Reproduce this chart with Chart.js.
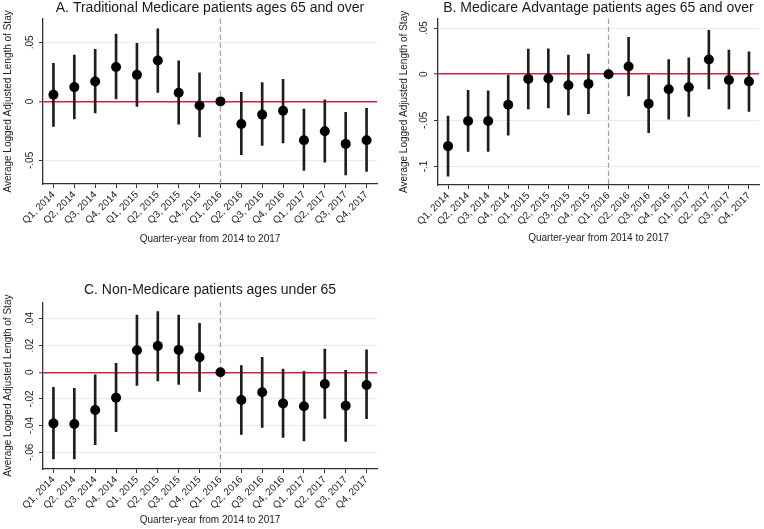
<!DOCTYPE html>
<html>
<head>
<meta charset="utf-8">
<script src="https://cdn.jsdelivr.net/npm/chart.js@4/dist/chart.umd.min.js"></script>
<style>
  html, body { margin: 0; padding: 0; background: #ffffff; }
  body { width: 764px; height: 529px; position: relative; overflow: hidden; }
  canvas { position: absolute; }
</style>
</head>
<body>
<canvas id="cA" width="382" height="270" style="left:0;top:0"></canvas>
<canvas id="cB" width="382" height="270" style="left:382px;top:0"></canvas>
<canvas id="cC" width="382" height="259" style="left:0;top:270px"></canvas>
<script>
// ---- Data ----
const quarters = ["Q1, 2014","Q2, 2014","Q3, 2014","Q4, 2014","Q1, 2015","Q2, 2015","Q3, 2015","Q4, 2015",
                  "Q1, 2016","Q2, 2016","Q3, 2016","Q4, 2016","Q1, 2017","Q2, 2017","Q3, 2017","Q4, 2017"];
const referenceQuarter = "Q1, 2016";

const titleA = "A. Traditional Medicare patients ages 65 and over";
const estA = [0.0056, 0.0121, 0.0169, 0.0292, 0.0225, 0.0346, 0.0073, -0.0034, 0, -0.0191, -0.0112, -0.0079, -0.0329, -0.0253, -0.0360, -0.0329];
const loA  = [-0.0211, -0.0149, -0.0098, 0.0020, -0.0042, 0.0076, -0.0194, -0.0300, 0, -0.0452, -0.0374, -0.0351, -0.0584, -0.0514, -0.0624, -0.0593];
const hiA  = [0.0323, 0.0393, 0.0441, 0.0570, 0.0492, 0.0615, 0.0343, 0.0242, 0, 0.0076, 0.0160, 0.0188, -0.0065, 0.0014, -0.0093, -0.0059];
const yTicksA = [-0.05, 0, 0.05];
const yTickLabelsA = ["-.05", "0", ".05"];
const yRangeA = [-0.07, 0.07];

const titleB = "B. Medicare Advantage patients ages 65 and over";
const estB = [-0.0779, -0.0507, -0.0507, -0.0330, -0.0051, -0.0047, -0.0120, -0.0105, 0, 0.0083, -0.0319, -0.0163, -0.0141, 0.0159, -0.0062, -0.0080];
const loB  = [-0.1105, -0.0837, -0.0837, -0.0660, -0.0377, -0.0366, -0.0442, -0.0428, 0, -0.0236, -0.0634, -0.0486, -0.0457, -0.0159, -0.0377, -0.0402];
const hiB  = [-0.0453, -0.0174, -0.0181, 0.0000, 0.0272, 0.0275, 0.0207, 0.0217, 0, 0.0399, 0.0000, 0.0159, 0.0178, 0.0475, 0.0261, 0.0243];
const yTicksB = [-0.1, -0.05, 0, 0.05];
const yTickLabelsB = ["-.1", "-.05", "0", ".05"];
const yRangeB = [-0.12, 0.06];

const titleC = "C. Non-Medicare patients ages under 65";
const estC = [-0.0383, -0.0388, -0.0283, -0.0190, 0.0165, 0.0198, 0.0168, 0.0113, 0, -0.0208, -0.0150, -0.0233, -0.0255, -0.0088, -0.0250, -0.0095];
const loC  = [-0.0650, -0.0650, -0.0543, -0.0445, -0.0098, -0.0065, -0.0090, -0.0143, 0, -0.0465, -0.0413, -0.0488, -0.0515, -0.0345, -0.0518, -0.0348];
const hiC  = [-0.0113, -0.0120, -0.0018, 0.0068, 0.0430, 0.0455, 0.0430, 0.0368, 0, 0.0050, 0.0113, 0.0025, 0.0008, 0.0175, 0.0015, 0.0168];
const yTicksC = [-0.06, -0.04, -0.02, 0, 0.02, 0.04];
const yTickLabelsC = ["-.06", "-.04", "-.02", "0", ".02", ".04"];
const yRangeC = [-0.0725, 0.0525];

const yAxisTitle = "Average Logged Adjusted Length of Stay";
const xAxisTitle = "Quarter-year from 2014 to 2017";

// ---- Styling ----
const FONT = "'Liberation Sans', Arial, sans-serif";
const RED = "#d81e3c";
const GRID = "#e2edf1";
const AXIS = "#333333";

const refLinesPlugin = {
  id: 'refLines',
  beforeDatasetsDraw(chart) {
    const {ctx, chartArea, scales} = chart;
    const x = scales.x.getPixelForValue(quarters.indexOf(referenceQuarter));
    ctx.save();
    ctx.strokeStyle = "#a0a0a0";
    ctx.lineWidth = 1.3;
    ctx.setLineDash([5, 3]);
    ctx.beginPath();
    ctx.moveTo(x, chartArea.top);
    ctx.lineTo(x, chartArea.bottom);
    ctx.stroke();
    ctx.restore();
  }
};

function makePanel(id, p) {
  const ctx = document.getElementById(id).getContext('2d');
  const ci = p.lo.map((l, i) => [l, p.hi[i]]);
  return new Chart(ctx, {
    type: 'bar',
    data: {
      labels: quarters,
      datasets: [
        { type: 'line', data: p.est, showLine: false, pointRadius: 5, pointHoverRadius: 5,
          pointBackgroundColor: '#000', pointBorderColor: '#000', pointBorderWidth: 0, order: 0 },
        { type: 'bar', data: ci, backgroundColor: '#1e1e1e', borderWidth: 0, barThickness: 2, order: 1 }
      ]
    },
    options: {
      responsive: false,
      animation: false,
      events: [],
      layout: { padding: { top: p.padTop, bottom: p.padBottom, left: 0, right: 0 } },
      plugins: {
        legend: { display: false },
        tooltip: { enabled: false },
        title: {
          display: true, text: p.title, fullSize: false, color: '#1a1a1a',
          font: { family: FONT, size: 14, weight: 'normal', lineHeight: 1.2 },
          padding: { top: 0, bottom: p.titleGap }
        }
      },
      scales: {
        x: {
          type: 'category',
          offset: true,
          grid: { display: true, drawOnChartArea: false, drawTicks: true, tickLength: 4, tickColor: AXIS, tickWidth: 1, offset: false },
          border: { display: true, color: AXIS, width: 1.3 },
          ticks: { color: '#222', font: { family: FONT, size: 10 }, minRotation: 45, maxRotation: 45, padding: 1, autoSkip: false },
          title: { display: true, text: xAxisTitle, color: '#222', font: { family: FONT, size: 10 }, padding: { top: 0, bottom: 0 } },
          afterFit(s) { s.height = p.xAxisH; }
        },
        y: {
          min: p.yRange[0], max: p.yRange[1],
          afterBuildTicks(s) { s.ticks = p.yTicks.map(v => ({ value: v })); },
          grid: {
            color: c => (c.tick && Math.abs(c.tick.value) < 1e-9) ? RED : GRID,
            lineWidth: c => (c.tick && Math.abs(c.tick.value) < 1e-9) ? 1.6 : 1,
            tickColor: AXIS, tickLength: 4, tickWidth: 1, drawTicks: true
          },
          border: { display: true, color: AXIS, width: 1.3 },
          ticks: {
            color: '#222', font: { family: FONT, size: 10 }, minRotation: 90, maxRotation: 90,
            crossAlign: 'center', padding: p.yTickPad,
            callback: (v) => { const i = p.yTicks.findIndex(t => Math.abs(t - v) < 1e-9); return i >= 0 ? p.yLabels[i] : ''; }
          },
          title: { display: true, text: yAxisTitle, color: '#222', font: { family: FONT, size: 10 }, padding: { top: p.yTitlePad, bottom: 0 } },
          afterFit(s) { s.width = p.yAxisW; }
        }
      }
    },
    plugins: [refLinesPlugin]
  });
}

makePanel('cA', { title: titleA, est: estA, lo: loA, hi: hiA, yTicks: yTicksA, yLabels: yTickLabelsA, yRange: yRangeA,
  padTop: 0, titleGap: 2, padBottom: 25, xAxisH: 61, yAxisW: 43, yTitlePad: 2, yTickPad: 0 });
makePanel('cB', { title: titleB, est: estB, lo: loB, hi: hiB, yTicks: yTicksB, yLabels: yTickLabelsB, yRange: yRangeB,
  padTop: 0, titleGap: 2, padBottom: 26, xAxisH: 59, yAxisW: 56, yTitlePad: 16, yTickPad: 1 });
makePanel('cC', { title: titleC, est: estC, lo: loC, hi: hiC, yTicks: yTicksC, yLabels: yTickLabelsC, yRange: yRangeC,
  padTop: 12, titleGap: 3.5, padBottom: 3, xAxisH: 57, yAxisW: 43, yTitlePad: 2, yTickPad: 0 });
</script>
</body>
</html>
